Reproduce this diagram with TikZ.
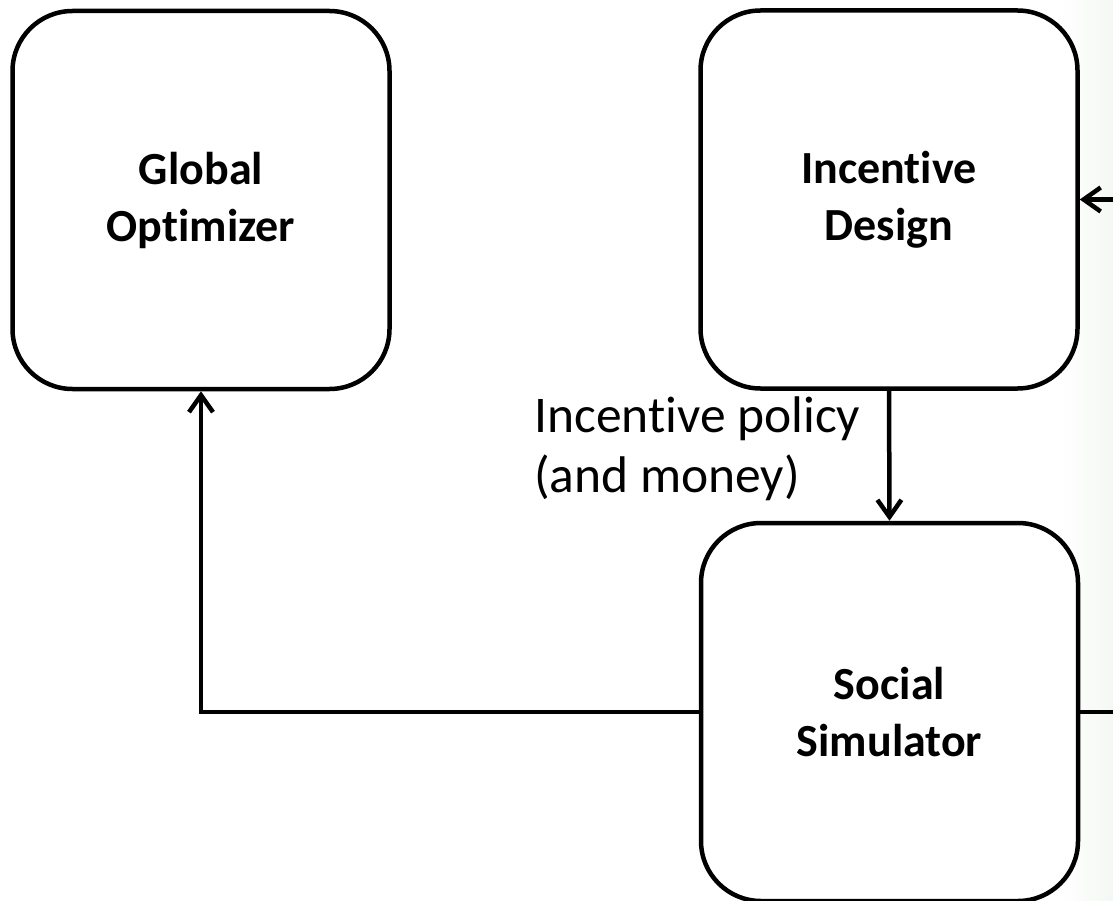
\documentclass[tikz,border=0pt]{standalone}
\usepackage{fontspec}
\setmainfont{Carlito}[Ligatures={NoCommon}]
\usetikzlibrary{arrows.meta}
\definecolor{bgtint}{RGB}{244,248,244}
\tikzset{
  block/.style={draw=black, line width=4.5pt, rounded corners=60pt,
    minimum width=377pt, minimum height=378pt, align=center,
    font=\fontsize{46pt}{57pt}\selectfont\bfseries, fill=white},
  conn/.style={draw=black, line width=4.5pt},
  arr/.style={conn, -{Straight Barb[length=17pt,width=24pt,line width=4.5pt]}},
  lbl/.style={font=\fontsize{51.5pt}{60pt}\selectfont, align=left, inner sep=0pt}
}
\begin{document}
\begin{tikzpicture}[x=1pt,y=-1pt]
\useasboundingbox (0,0) rectangle (1113,901);
\fill[white] (0,0) rectangle (1113,901);
\shade[left color=white, right color=bgtint] (1060,0) rectangle (1113,901);
\node[block] (go) at (201,200) {Global\\Optimizer};
\node[block] (id) at (889,199.5) {Incentive\\Design};
\node[block] (ss) at (889.5,712) {Social\\Simulator};
\coordinate (r1) at (1113,712);
\coordinate (r2) at (1113,199.5);
\node[lbl, anchor=north west] (pol) at (534,397) {Incentive policy\\(and money)};
\draw[arr] (id.south) -- (ss.north);
\draw[arr] (ss.west) -| (go.south);
\draw[conn] (ss.east) -- (r1);
\draw[arr] (r2) -- (id.east);
\end{tikzpicture}
\end{document}
